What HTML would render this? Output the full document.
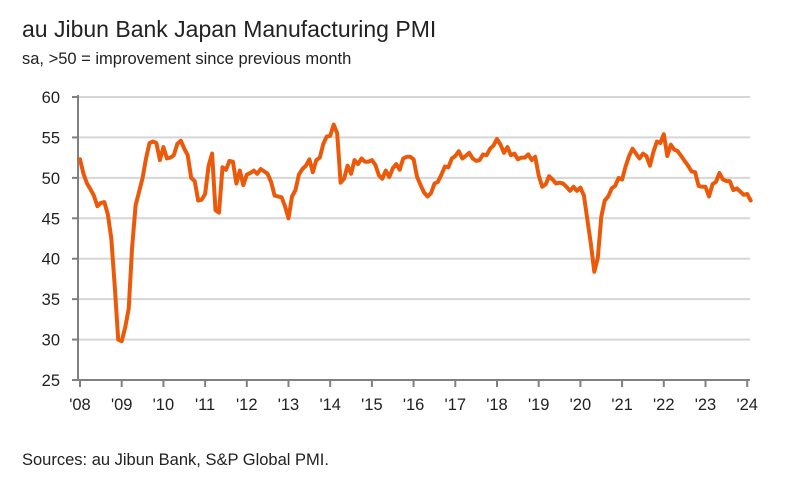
<!DOCTYPE html>
<html><head><meta charset="utf-8"><style>
body{margin:0;background:#fff;font-family:"Liberation Sans",sans-serif;}
#wrap{position:relative;width:805px;height:494px;overflow:hidden;}
.t{position:absolute;color:#222;white-space:nowrap;}
</style></head><body>
<div id="wrap">
<div class="t" style="left:22px;top:16px;font-size:23px;">au Jibun Bank Japan Manufacturing PMI</div>
<div class="t" style="left:22px;top:50px;font-size:16.5px;">sa, &gt;50 = improvement since previous month</div>
<div class="t" style="left:22px;top:451px;font-size:16.5px;">Sources: au Jibun Bank, S&amp;P Global PMI.</div>
<svg id="chart" width="805" height="494" style="position:absolute;left:0;top:0"></svg>
</div>
<script>
const yTicks=[25,30,35,40,45,50,55,60];
const xTickLabels=["'08","'09","'10","'11","'12","'13","'14","'15","'16","'17","'18","'19","'20","'21","'22","'23","'24"];
const pmi2008=[52.3,50.5,49.3,48.6,47.8,46.5,46.9,47.0,45.5,42.5,36.5,30.0];
const pmi2009=[29.8,31.5,33.8,41.4,46.6,48.3,50.0,52.4,54.3,54.5,54.3,52.2];
const pmi2010=[53.8,52.4,52.5,52.8,54.2,54.6,53.6,52.8,50.0,49.6,47.2,47.3];
const pmi2011=[48.0,51.5,53.0,46.0,45.7,51.3,51.0,52.1,52.0,49.3,50.9,49.1];
const pmi2012=[50.4,50.6,50.9,50.5,51.1,50.8,50.5,49.5,47.8,47.7,47.6,46.5];
const pmi2013=[45.0,47.7,48.5,50.4,51.1,51.5,52.3,50.7,52.2,52.5,54.2,55.1];
const pmi2014=[55.2,56.6,55.5,49.4,49.9,51.5,50.5,52.2,51.7,52.4,52.0,52.0];
const pmi2015=[52.2,51.6,50.3,49.9,50.9,50.1,51.2,51.7,51.0,52.4,52.6,52.6];
const pmi2016=[52.3,50.1,49.1,48.2,47.7,48.1,49.3,49.5,50.4,51.4,51.3,52.4];
const pmi2017=[52.7,53.3,52.4,52.7,53.1,52.4,52.1,52.2,52.9,52.8,53.6,54.0];
const pmi2018=[54.8,54.1,53.1,53.8,52.8,53.0,52.3,52.5,52.5,52.9,52.2,52.6];
const pmi2019=[50.3,48.9,49.2,50.2,49.8,49.3,49.4,49.3,48.9,48.4,48.9,48.4];
const pmi2020=[48.8,47.8,44.8,41.9,38.4,40.1,45.2,47.2,47.7,48.7,49.0,50.0];
const pmi2021=[49.8,51.4,52.7,53.6,53.0,52.4,53.0,52.7,51.5,53.2,54.5,54.3];
const pmi2022=[55.4,52.7,54.1,53.5,53.3,52.7,52.1,51.5,50.8,50.7,49.0,48.9];
const pmi2023=[48.9,47.7,49.2,49.5,50.6,49.8,49.6,49.6,48.5,48.7,48.3,47.9];
const pmi2024=[48.0,47.2];
const values=[].concat(pmi2008,pmi2009,pmi2010,pmi2011,pmi2012,pmi2013,pmi2014,pmi2015,pmi2016,pmi2017,pmi2018,pmi2019,pmi2020,pmi2021,pmi2022,pmi2023,pmi2024);

const svg=document.getElementById('chart');
const NS='http://www.w3.org/2000/svg';
const x0=80,yrW=41.7,yTop=97,yBot=380,yMin=25,yMax=60,xRight=750;
function xs(m){return x0+m*yrW/12;}
function ys(v){return yBot-(v-yMin)/(yMax-yMin)*(yBot-yTop);}
function mk(tag,attrs){const e=document.createElementNS(NS,tag);for(const k in attrs)e.setAttribute(k,attrs[k]);svg.appendChild(e);return e;}

yTicks.forEach(v=>{
  const y=ys(v);
  if(v>yMin){const g=mk('line',{x1:78,x2:xRight,y1:y,y2:y,stroke:'#d6d6d6','stroke-width':2});
  
  }
  const tk=mk('line',{x1:72,x2:78,y1:y,y2:y,stroke:'#808080','stroke-width':2});
  
  
  const t=mk('text',{x:60,y:y+6,'text-anchor':'end','font-size':16.5,fill:'#222','font-family':'Liberation Sans, sans-serif'});
  t.textContent=v;
  
  
});
const ya=mk('line',{x1:78,x2:78,y1:yTop-2,y2:yBot,stroke:'#808080','stroke-width':2});


const xa=mk('line',{x1:77,x2:xRight,y1:yBot,y2:yBot,stroke:'#808080','stroke-width':2});


xTickLabels.forEach((l,i)=>{
  const x=xs(i*12);
  const tk=mk('line',{x1:x,x2:x,y1:yBot,y2:yBot+7,stroke:'#808080','stroke-width':2});
  
  
  const t=mk('text',{x:x,y:yBot+30,'text-anchor':'middle','font-size':16.5,fill:'#222','font-family':'Liberation Sans, sans-serif'});
  t.textContent=l;
  
  
});
let d='';
values.forEach((v,i)=>{d+=(i?'L':'M')+xs(i).toFixed(1)+','+ys(v).toFixed(1);});
const p=mk('path',{d:d,fill:'none',stroke:'#eb5a0a','stroke-width':4,'stroke-linejoin':'round','stroke-linecap':'round'});


</script>
</body></html>
